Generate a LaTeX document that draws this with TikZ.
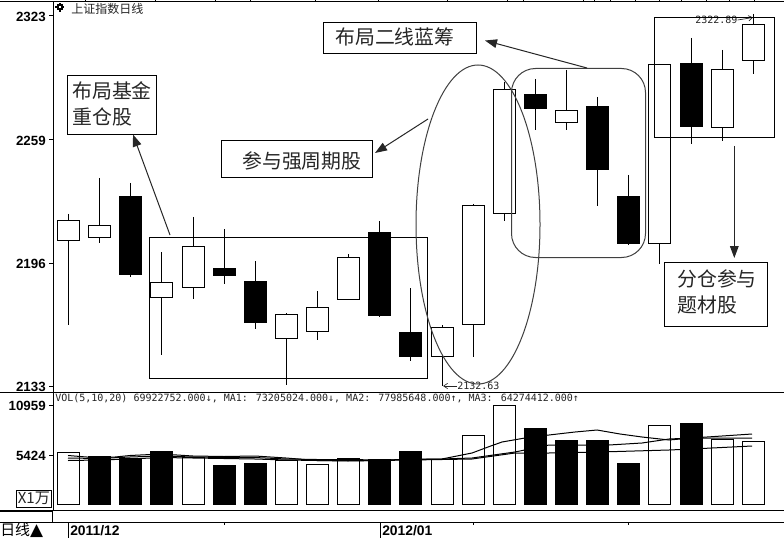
\documentclass[tikz,border=0pt]{standalone}
\usepackage{fontspec}
\setmainfont{Liberation Sans}
\newfontfamily\cjk{Noto Sans CJK SC}
\newfontfamily\monof{DejaVu Sans Mono}
\newfontfamily\symf{DejaVu Sans}
\usetikzlibrary{arrows.meta}
\definecolor{soft}{gray}{0.25}
\tikzset{
  x=0.75pt,y=-0.75pt,
  ln/.style={line width=0.75pt,black},
  ax/.style={line width=0.75pt,black},
  whitebox/.style={draw=black,fill=white,line width=0.75pt},
  blackbox/.style={draw=black,fill=black,line width=0.75pt},
  note/.style={draw=black,fill=white,line width=0.75pt,inner sep=0pt,anchor=center},
  notetext/.style={font=\cjk\fontsize{14.9}{19.5}\selectfont,text=black!85,inner sep=0pt,align=left},
  num/.style={font=\bfseries\fontsize{10}{12}\selectfont,inner sep=0pt,anchor=east},
  datefont/.style={font=\bfseries\fontsize{10.4}{12}\selectfont,inner sep=0pt,anchor=west},
  mono/.style={font=\monof\fontsize{7.5}{9}\selectfont,inner sep=0pt,anchor=west,text=black!85},
  callout/.style={line width=0.75pt,black!85,-{Triangle[length=9pt,width=6.5pt]},shorten >=0pt},
  pointer/.style={line width=0.5pt,black!85,-{Straight Barb[length=3pt,width=4pt]}},
  region/.style={line width=0.75pt,draw=soft},
}
\newcommand{\candle}[7]{% x, bodytop, bodybottom, wicktop, wickbottom, style, halfwidth
  \draw[ln] (#1,#4) -- (#1,#5);
  \draw[#6] (#1-#7,#2) rectangle (#1+#7,#3);
}
\newcommand{\volbar}[3]{\draw[#3] (#1-11,#2) rectangle (#1+11,504.7);}
\begin{document}
\begin{tikzpicture}
\useasboundingbox (0,0) rectangle (784,538);
\fill[white] (0,0) rectangle (784,538);
% frame
\draw[ax] (0,2) -- (784,2);
\foreach \t in {85,155,215,250,315,378,447,507,523,583,594,610,635,659,681,706,729,754}
  \draw[ax] (\t,0) -- (\t,2);
\draw[ax] (53.5,2) -- (53.5,510);
\draw[ax] (0,392.5) -- (784,392.5);
\draw[ax] (53,510.3) -- (784,510.3);
\draw[line width=1.1pt] (0,510.8) -- (53,510.8);
\draw[ax] (52.5,511) -- (52.5,522.3);
\draw[ax] (0,522.3) -- (784,522.3);
\draw[ax] (68.5,522.3) -- (68.5,538);
\draw[ax] (380.5,522.3) -- (380.5,538);
\foreach \t in {224.5,473.5,628.5} \draw[ax] (\t,522.3) -- (\t,525);
\foreach \t in {16,140,263,386,405,455} \draw[ax] (49,\t) -- (53.5,\t);
% axis labels
\node[num] (a1) at (46,16.5) {2323};
\node[num] (a2) at (46,140.5) {2259};
\node[num] (a3) at (46,263.5) {2196};
\node[num] (a4) at (46,386.5) {2133};
\node[num] (a5) at (46,405.5) {10959};
\node[num] (a6) at (46,455.5) {5424};
% title
\fill[black] (56.5,4.5) rectangle (62.5,10.5);
\fill[black] (58.5,3) rectangle (60.5,12);
\fill[black] (55,6.5) rectangle (64,8.5);
\fill[white] (58.5,6.5) rectangle (60.5,8.5);
\node[inner sep=0pt,anchor=west,font=\cjk\fontsize{9}{11}\selectfont,text=black!85] (title) at (71,8.5) {上证指数日线};
% price candles
\foreach \x/\a/\b/\c/\d/\s in {
 68.5/220.5/240/214/325/whitebox, 99.5/225/237.5/178/243/whitebox, 130.5/197/274/183/277/blackbox,
 161.5/282.5/297.5/252/355/whitebox, 193.5/246.5/287.5/217/299/whitebox, 224.5/268.5/275.5/229/284/blackbox,
 255.5/281.5/322/261/329/blackbox, 286.5/314.5/338.5/313/385/whitebox, 317.5/307.5/331.5/291/340/whitebox,
 348.5/257.5/299.5/254/300/whitebox, 379.5/232.5/315.5/221/317/blackbox, 410.5/332.5/356.5/288/361/blackbox,
 442.5/327.5/356.5/325/386/whitebox, 473.5/205.5/324.5/204/357/whitebox, 504.5/89.5/213.5/82/220.5/whitebox,
 535.5/94.5/108.5/79/130/blackbox, 566.5/110.5/122.5/70/130/whitebox, 597.5/106.5/169.5/97/206/blackbox,
 628.5/196.5/243.5/175/245/blackbox, 659.5/64.5/243.5/64/264/whitebox, 691.5/63.5/126.5/38/144/blackbox,
 722.5/69.5/127.5/50/141/whitebox, 753.5/24.5/60.5/14/74/whitebox}
 {\candle{\x}{\a}{\b}{\c}{\d}{\s}{11}}
% volume bars
\foreach \x/\t/\s in {
 68.5/452.5/whitebox, 99.5/456.5/blackbox, 130.5/458.5/blackbox, 161.5/451/blackbox, 193.5/457.5/whitebox,
 224.5/465/blackbox, 255.5/463/blackbox, 286.5/460.5/whitebox, 317.5/464.5/whitebox, 348.5/458.5/whitebox,
 379.5/459.5/blackbox, 410.5/451/blackbox, 442.5/459.5/whitebox, 473.5/435.5/whitebox, 504.5/405.5/whitebox,
 535.5/428/blackbox, 566.5/440/blackbox, 597.5/440/blackbox, 628.5/463/blackbox, 659.5/425.5/whitebox,
 691.5/423/blackbox, 722.5/439.5/whitebox, 753.5/441.5/whitebox}
 {\volbar{\x}{\t}{\s}}
% moving averages
\draw[ln] (68,455.5) -- (99,458) -- (115,457) -- (130,455.5) -- (161,454) -- (193,456) -- (224,456.5) -- (255,456) -- (286,458) -- (317,460.5) -- (348,460.5) -- (379,460.5) -- (410,459) -- (442,459) -- (472,453) -- (488,447) -- (502,442) -- (525,438) -- (549,435) -- (575,432) -- (597,430) -- (620,434) -- (642,437) -- (669,440) -- (692,438) -- (752,434);
\draw[ln] (68,458) -- (99,458.5) -- (130,457) -- (161,456) -- (193,457) -- (224,457.5) -- (255,457.5) -- (286,459) -- (317,459.5) -- (348,459.5) -- (379,460) -- (410,459.5) -- (442,459) -- (472,458) -- (515,452) -- (549,445) -- (609,445) -- (642,443) -- (669,439) -- (692,438) -- (752,438);
\draw[ln] (68,460.5) -- (99,460) -- (130,459) -- (161,457.5) -- (193,458) -- (224,458.5) -- (255,459) -- (286,460) -- (317,460.5) -- (348,461) -- (379,460.5) -- (410,460) -- (442,459.5) -- (472,459) -- (515,453) -- (549,453) -- (600,452) -- (669,450) -- (692,449) -- (752,446);
% texts on chart
\node[mono] (voltext) at (55,398) {VOL(5,10,20) 69922752.000↓, MA1: 73205024.000↓, MA2: 77985648.000↑, MA3: 64274412.000↑};
\node[mono] (low) at (457,386) {2132.63};
\coordinate (lowend) at (443,386);
\draw[pointer] (low.west) -- (lowend);
\node[mono] (high) at (695,20) {2322.89};
\coordinate (highend) at (753,17.5);
\draw[pointer] (high.east) -- (highend);
% scale box and bottom labels
\node[draw=black,line width=0.75pt,fill=white,minimum width=25.9pt,minimum height=12.75pt,inner sep=0pt,font=\cjk\fontsize{11.3}{12}\selectfont,text=black!85] (scale) at (33.8,498.5) {X1万};
\node[inner sep=0pt,anchor=west,font=\cjk\fontsize{11.2}{13}\selectfont] (daily) at (0,530) {日线\symf\fontsize{12.7}{13}\selectfont ▲};
\node[datefont] (d1) at (70,530.5) {2011/12};
\node[datefont] (d2) at (382,530.5) {2012/01};
% regions
\draw[region,draw=black] (149.5,237.5) rectangle (427.5,378.5);
\draw[region,draw=black] (654.5,17.5) rectangle (774.5,138);
\draw[region,rounded corners=18pt] (511.5,68.5) rectangle (645.5,257.5);
\draw[region] (478,224.5) ellipse [x radius=62,y radius=159.5];
% notes
\node[note,minimum width=66.4pt,minimum height=44.6pt] (n1) at (111.75,104.75) {};
\node[notetext,anchor=west] at (72,91) {布局基金};
\node[notetext,anchor=west] at (72,117) {重仓股};
\node[note,minimum width=113.25pt,minimum height=28.1pt] (n2) at (297,159.25) {};
\node[notetext,anchor=west] at (242,161) {参与强周期股};
\node[note,minimum width=114.75pt,minimum height=23.6pt] (n3) at (400,38.25) {};
\node[notetext,anchor=west] at (335,37) {布局二线蓝筹};
\node[note,minimum width=77.25pt,minimum height=48pt] (n4) at (716,294) {};
\node[notetext,anchor=west] at (677,279) {分仓参与};
\node[notetext,anchor=west] at (677,305) {题材股};
% callouts
\coordinate (c1) at (170,235);
\coordinate (c2) at (428,119);
\coordinate (c3) at (587,68);
\coordinate (c4) at (734.3,146);
\coordinate (t1) at (133,134.5);
\coordinate (t2) at (375,153);
\coordinate (t3) at (485,40.5);
\coordinate (t4) at (734.3,258);
\draw[callout] (c1) -- (t1);
\draw[callout] (c2) -- (t2);
\draw[callout] (c3) -- (t3);
\draw[callout] (c4) -- (t4);
\end{tikzpicture}
\end{document}
